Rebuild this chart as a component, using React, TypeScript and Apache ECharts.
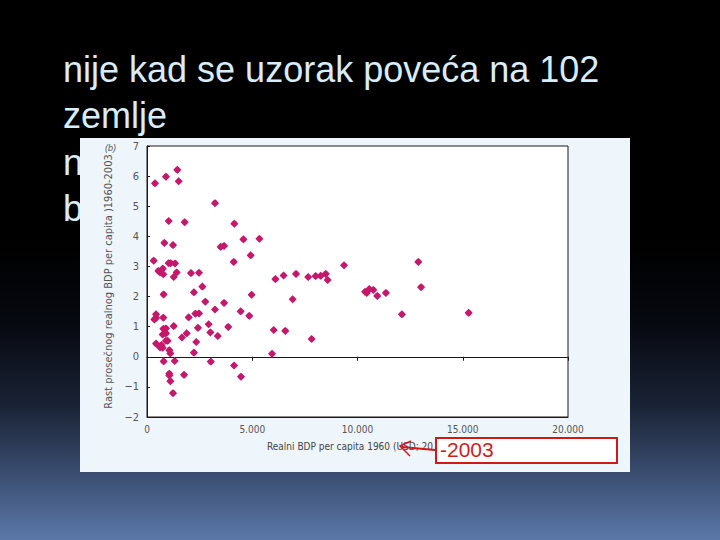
import React, { useEffect, useRef } from "react";
import * as echarts from "echarts";

// Real GDP per capita 1960 (USD) and average growth of real GDP per capita 1960-2003 (%)
const gdp1960: number[] = [
  380, 900, 1440, 1505, 3230, 1030, 1790, 4150, 825, 1235,
  3500, 3660, 4580, 5340, 4925, 318, 1030, 1125, 1330, 4120,
  540, 620, 750, 775, 1410, 1270, 2090, 2470, 2630, 2230,
  790, 2770, 3660, 4970, 6100, 6490, 7080, 7660, 8010, 8250,
  8490, 8580, 9360, 6920, 430, 350, 430, 775, 1980, 2300,
  2470, 3230, 4450, 4860, 1270, 775, 900, 855, 745, 900,
  2930, 3860, 2420, 1885, 1660, 3010, 3360, 6020, 6570, 7820,
  430, 620, 745, 680, 900, 980, 2340, 1060, 1110, 2230,
  5940, 790, 1315, 3030, 4135, 4465, 1060, 1060, 1110, 1760,
  1235, 12890, 13020, 10360, 10440, 10560, 10750, 10940, 11350, 12110,
  15280,
];
const growth: number[] = [
  5.76, 5.98, 6.21, 5.83, 5.1, 4.51, 4.47, 4.42, 3.78, 3.71,
  3.65, 3.68, 3.9, 3.92, 3.37, 3.19, 3.11, 3.11, 3.1, 3.15,
  2.85, 2.8, 2.93, 2.74, 2.8, 2.65, 2.78, 2.79, 2.33, 2.14,
  2.07, 1.83, 1.79, 2.06, 2.58, 2.7, 2.75, 2.65, 2.68, 2.69,
  2.75, 2.55, 3.04, 1.91, 1.41, 1.24, 1.29, 1.3, 1.31, 1.43,
  1.44, 1.57, 1.51, 1.36, 1.02, 0.93, 0.94, 0.8, 0.74, 0.78,
  1.08, 0.99, 0.96, 0.78, 0.64, 0.81, 0.69, 0.89, 0.86, 0.59,
  0.44, 0.31, 0.3, 0.39, 0.53, 0.53, 0.49, 0.22, 0.11, 0.14,
  0.1, -0.15, -0.14, -0.16, -0.29, -0.66, -0.56, -0.62, -0.81, -0.6,
  -1.21, 3.15, 2.31, 2.16, 2.12, 2.25, 2.22, 2.02, 2.12, 1.41,
  1.46,
];

const titleLines: string[] = ["nije kad se uzorak poveća na 102", "zemlje", "n", "b"];
const yAxisTitle = "Rast prosečnog realnog BDP per capita )1960-2003";
const xAxisTitle = "Realni BDP per capita 1960 (USD; 20";
const boxLabel = "-2003";
const panelTag = "(b)";

const X_MIN = 0, X_MAX = 20000, X_STEP = 5000;
const Y_MIN = -2, Y_MAX = 7, Y_STEP = 1;

const MARKER =
  "path://M0,-4L1.6,-2.6L2.6,-1.6L4,0L2.6,1.6L1.6,2.6L0,4L-1.6,2.6L-2.6,1.6L-4,0L-2.6,-1.6L-1.6,-2.6Z";

export default function App() {
  const ref = useRef<HTMLDivElement>(null);

  useEffect(() => {
    if (!ref.current) return;
    const chart = echarts.init(ref.current, undefined, { renderer: "svg" });
    const points = gdp1960.map((x, i) => [x, growth[i]]);
    const condensed = "DejaVu Sans Condensed, Liberation Sans Narrow, Liberation Sans, sans-serif";
    const tickFont = { color: "#555", fontSize: 10, fontFamily: condensed };
    const fmtThousands = (v: number) =>
      v === 0 ? "0" : String(v).replace(/\B(?=(\d{3})+(?!\d))/g, ".");

    chart.setOption({
      animation: false,
      backgroundColor: new echarts.graphic.LinearGradient(0, 0, 0, 1, [
        { offset: 0, color: "#000000" },
        { offset: 0.45, color: "#000000" },
        { offset: 0.6, color: "#070911" },
        { offset: 0.75, color: "#1a2335" },
        { offset: 0.83, color: "#2e3d5a" },
        { offset: 1, color: "#5b78a9" },
      ]),
      grid: {
        left: 147,
        top: 146,
        right: 152,
        bottom: 123,
        show: true,
        backgroundColor: "#ffffff",
        borderColor: "#1a1a1a",
        borderWidth: 1,
        z: 5,
      },
      xAxis: [
        {
          type: "value",
          min: X_MIN,
          max: X_MAX,
          interval: X_STEP,
          position: "bottom",
          splitLine: { show: false },
          axisLine: { show: true, onZero: false, lineStyle: { color: "#1a1a1a" } },
          axisTick: { show: false },
          axisLabel: { ...tickFont, margin: 7, formatter: fmtThousands },
          z: 6,
        },
        {
          type: "value",
          min: X_MIN,
          max: X_MAX,
          interval: X_STEP,
          position: "bottom",
          splitLine: { show: false },
          axisLine: { show: true, onZero: true, onZeroAxisIndex: 0, lineStyle: { color: "#1a1a1a" } },
          axisTick: { show: true, inside: false, length: 4, lineStyle: { color: "#1a1a1a" } },
          axisLabel: { show: false },
          z: 6,
        },
      ],
      yAxis: {
        type: "value",
        min: Y_MIN,
        max: Y_MAX,
        interval: Y_STEP,
        splitLine: { show: false },
        axisLine: { show: true, lineStyle: { color: "#1a1a1a" } },
        axisTick: { show: true, inside: true, length: 3, lineStyle: { color: "#1a1a1a" } },
        axisLabel: {
          ...tickFont,
          fontSize: 11,
          margin: 8,
          formatter: (v: number) => (v < 0 ? "\u2212" + Math.abs(v) : String(v)),
        },
        name: yAxisTitle,
        nameLocation: "middle",
        nameRotate: 90,
        nameGap: 25,
        nameTextStyle: { ...tickFont, fontSize: 11 },
        z: 6,
      },
      graphic: [
        ...titleLines.map((t, i) => ({
          type: "text",
          left: 63,
          top: 51 + i * 46.5,
          z: 1,
          style: {
            text: t,
            fill: "#d8ecfa",
            fontSize: 36,
            fontFamily: "Liberation Sans, Arial, sans-serif",
          },
        })),
        {
          type: "rect",
          shape: { x: 80, y: 138, width: 550, height: 334 },
          style: { fill: "#eef6fc" },
          z: 2,
        },
        {
          type: "text",
          left: 105,
          top: 143,
          z: 10,
          style: {
            text: panelTag,
            fill: "#555",
            fontSize: 9,
            fontStyle: "italic",
            fontFamily: "Liberation Sans, sans-serif",
          },
        },
        {
          type: "text",
          left: 267,
          top: 441,
          z: 10,
          style: {
            text: xAxisTitle,
            fill: "#444",
            fontSize: 10,
            fontFamily: condensed,
          },
        },
        {
          type: "rect",
          shape: { x: 436, y: 438, width: 181, height: 25 },
          style: { fill: "#ffffff", stroke: "#d0191c", lineWidth: 2 },
          z: 20,
        },
        {
          type: "text",
          left: 440,
          top: 439,
          z: 21,
          style: {
            text: boxLabel,
            fill: "#cc1f1f",
            fontSize: 21,
            fontFamily: "Liberation Sans, Arial, sans-serif",
          },
        },
        {
          type: "polyline",
          shape: { points: [[435, 450], [402, 447]] },
          style: { stroke: "#d0191c", lineWidth: 2, fill: "none" },
          z: 21,
        },
        {
          type: "polyline",
          shape: { points: [[411, 441], [400, 446], [410, 456]] },
          style: { stroke: "#d0191c", lineWidth: 1.5, fill: "none" },
          z: 21,
        },
      ],
      series: [
        {
          type: "scatter",
          data: points,
          symbol: MARKER,
          symbolSize: 8,
          itemStyle: { color: "#c4196b", opacity: 1 },
          z: 8,
        },
      ],
    });
    return () => chart.dispose();
  }, []);

  return (
    <div
      ref={ref}
      style={{ position: "fixed", left: 0, top: 0, width: 720, height: 540 }}
    />
  );
}
